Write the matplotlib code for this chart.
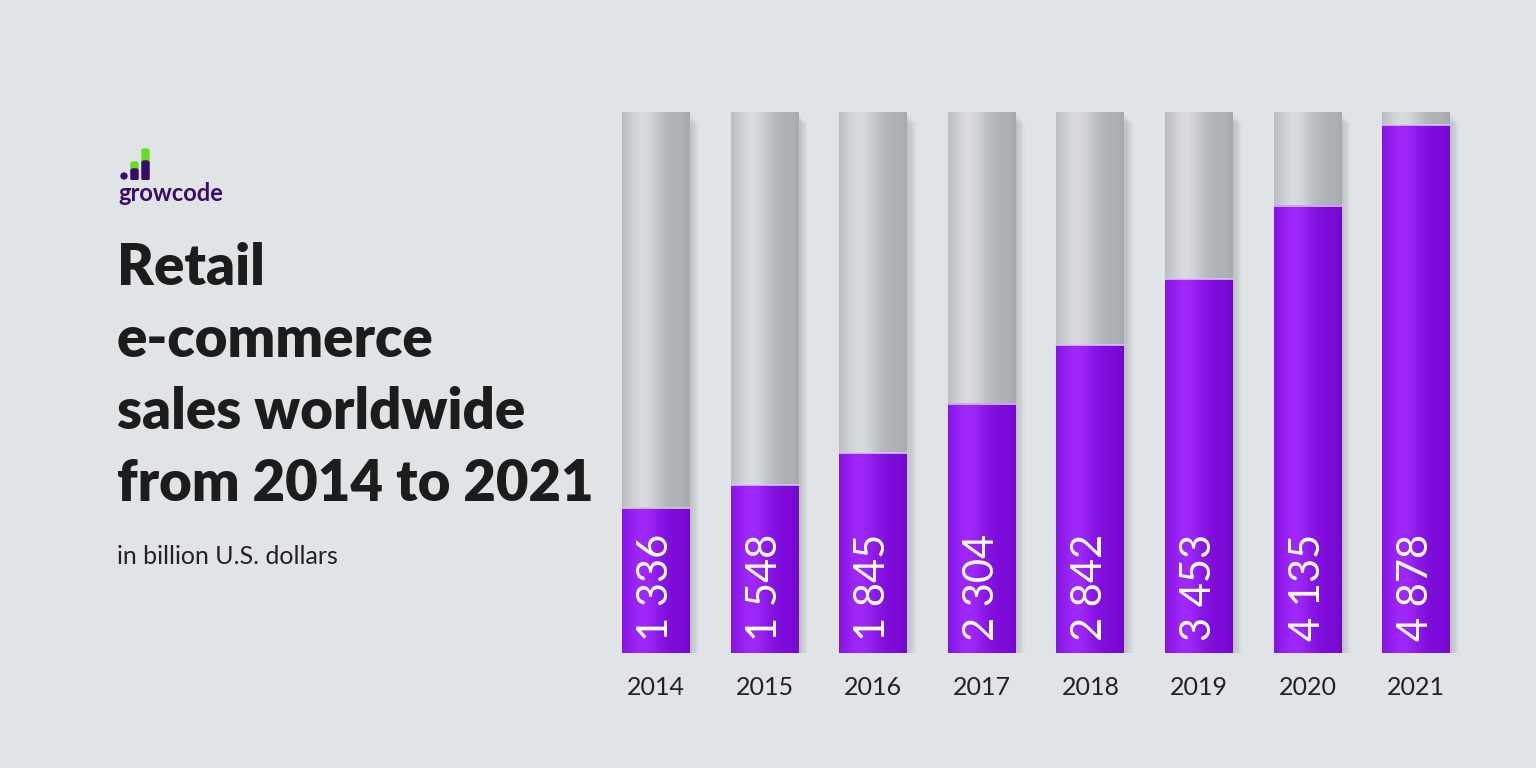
import numpy as np
from matplotlib import pyplot as plt
from matplotlib.patches import FancyBboxPatch, Rectangle, Circle

## DATA
YEARS = ["2014", "2015", "2016", "2017", "2018", "2019", "2020", "2021"]
SALES = [1336, 1548, 1845, 2304, 2842, 3453, 4135, 4878]
LABELS = ["1 336", "1 548", "1 845", "2 304", "2 842", "3 453", "4 135", "4 878"]
Y_MAX = 5000

BG = "#e0e4e7"
W = 0.626


def shade(base_dark, base_light, n=64):
    # horizontal shading: dark edges, highlight left of centre
    x = np.linspace(0, 1, n)
    t = np.exp(-((x - 0.3) / 0.28) ** 2)
    t = 0.25 + 0.75 * t
    t[-8:] *= np.linspace(1, 0.5, 8)
    d = np.array(base_dark)[None, :]
    l = np.array(base_light)[None, :]
    return (d + (l - d) * t[:, None])[None, :, :]


def main():
    fig = plt.figure(figsize=(15.36, 7.68), dpi=100)
    fig.patch.set_facecolor(BG)

    ax = fig.add_axes([601.7 / 1536, 0.150, (1470.6 - 601.7) / 1536, 0.704])
    ax.set_facecolor(BG)
    ax.set_xlim(-0.5, 7.5)
    ax.set_ylim(0, Y_MAX)
    ax.axis("off")

    grey = shade((0.62, 0.64, 0.65), (0.85, 0.86, 0.87))
    purple = shade((0.44, 0.0, 0.80), (0.62, 0.16, 0.98))

    for i, v in enumerate(SALES):
        x0 = i - W / 2
        # soft shadow
        for k in range(6):
            ax.add_patch(Rectangle((x0 + 0.02 + k * 0.012, -30 - k * 15), W, Y_MAX,
                                   color="black", alpha=0.025, lw=0, zorder=1))
        ax.imshow(grey, extent=(x0, x0 + W, 0, Y_MAX), aspect="auto", zorder=2)
        ax.imshow(purple, extent=(x0, x0 + W, 0, v), aspect="auto", zorder=3)
        ax.plot([x0, x0 + W], [v, v], color="#d6c2ef", lw=1.2, zorder=4)
        ax.text(i, 110, LABELS[i], rotation=90, ha="center", va="bottom",
                color="white", fontsize=30, family="Lato", zorder=5)
        ax.text(i, -320, YEARS[i], ha="center", va="center", color="#222222",
                fontsize=18, family="Lato")

    # left panel text
    title = ["Retail", "e-commerce", "sales worldwide", "from 2014 to 2021"]
    for j, line in enumerate(title):
        fig.text(117 / 1536, 1 - (285 + 72 * j) / 768, line, fontsize=40.5,
                 family="Lato", fontweight="heavy", color="#1c1c1c", va="baseline")
    fig.text(117 / 1536, 1 - 564 / 768, "in billion U.S. dollars", fontsize=18,
             family="Lato", color="#222222", va="baseline")

    # logo
    lg = fig.add_axes([120 / 1536, 1 - 180 / 768, 40 / 1536, 40 / 768])
    lg.set_xlim(0, 40)
    lg.set_ylim(0, 40)
    lg.axis("off")
    lg.add_patch(Circle((4, 4), 3, color="#3b0a6e"))
    lg.add_patch(FancyBboxPatch((13, 2), 3, 14, boxstyle="round,pad=2", color="#66e01b"))
    lg.add_patch(FancyBboxPatch((13, 2), 3, 7, boxstyle="round,pad=2", color="#3b0a6e"))
    lg.add_patch(FancyBboxPatch((24, 2), 3, 27, boxstyle="round,pad=2", color="#66e01b"))
    lg.add_patch(FancyBboxPatch((24, 2), 3, 15, boxstyle="round,pad=2", color="#3b0a6e"))
    fig.text(118 / 1536, 1 - 201 / 768, "growcode", fontsize=17, family="Lato",
             fontweight="bold", color="#3b0a6e", va="baseline")

    fig.savefig("out.png", dpi=100, facecolor=BG)


if __name__ == "__main__":
    main()
